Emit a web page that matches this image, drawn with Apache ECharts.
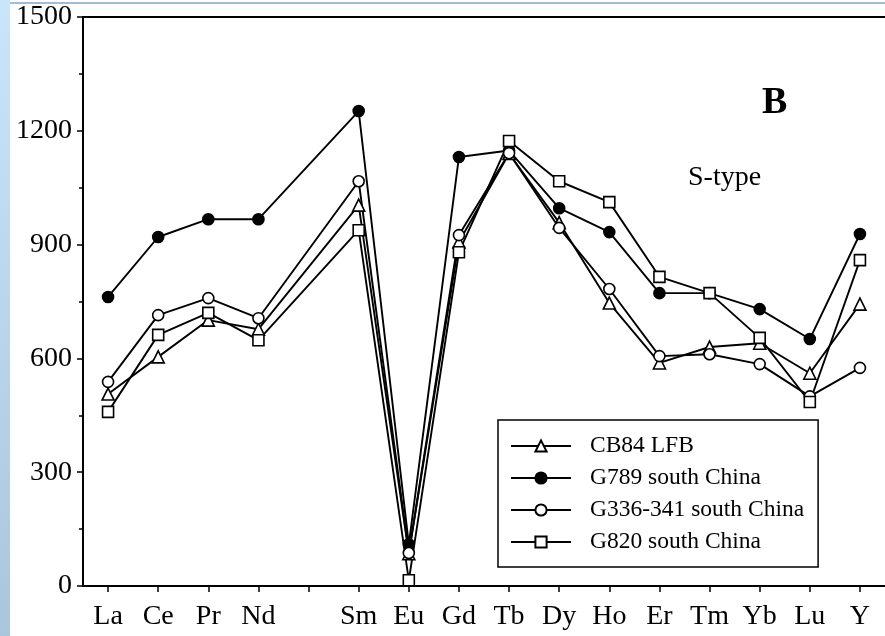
<!DOCTYPE html>
<html>
<head>
<meta charset="utf-8">
<script src="https://cdn.jsdelivr.net/npm/echarts@6/dist/echarts.min.js"></script>
<style>
html,body{margin:0;padding:0;background:#fff;}
#chart{width:885px;height:636px;}
</style>
</head>
<body>
<div id="chart"></div>
<script>
var categories = ['La','Ce','Pr','Nd','Pm','Sm','Eu','Gd','Tb','Dy','Ho','Er','Tm','Yb','Lu','Y'];
var yTicks = [0, 300, 600, 900, 1200, 1500];
var cb84 =   [506, 604, 701, 677, null, 1004, 85, 907, 1140, 958, 746, 588, 630, 640, 561, 743];
var g789 =   [762, 920, 967, 967, null, 1252, 110, 1131, 1148, 996, 933, 772, 772, 730, 651, 928];
var g336 =   [538, 714, 759, 706, null, 1067, 87, 925, 1141, 944, 783, 606, 611, 585, 500, 575];
var g820 =   [459, 662, 720, 648, null, 938, 15, 880, 1173, 1067, 1012, 815, 772, 654, 485, 859];
var seriesNames = ['CB84 LFB', 'G789 south China', 'G336-341 south China', 'G820 south China'];

var serif = '"Liberation Serif", "Times New Roman", serif';
var chart = echarts.init(document.getElementById('chart'), null, {renderer: 'canvas'});

function mk(name, data, symbol, filled, size) {
  return {
    name: name, type: 'line', data: data, connectNulls: true,
    symbol: symbol, symbolSize: size, showSymbol: true,
    lineStyle: {color: '#000', width: 1.9},
    itemStyle: {color: filled ? '#000' : '#fff', borderColor: '#000', borderWidth: 1.6, opacity: 1},
    emphasis: {disabled: true},
    animation: false
  };
}

chart.setOption({
  animation: false,
  backgroundColor: '#fff',
  grid: {left: 83, right: -2, top: 17, bottom: 50, containLabel: false},
  xAxis: [{
    type: 'category', data: categories, boundaryGap: true,
    axisLine: {lineStyle: {color: '#000', width: 2}},
    axisTick: {show: true, alignWithLabel: true, interval: 0, length: 6, lineStyle: {color: '#000', width: 1.5}},
    axisLabel: {interval: 0, margin: 17, color: '#000', fontFamily: serif, fontSize: 28,
      formatter: function (v) { return v === 'Pm' ? '' : v; }},
    splitLine: {show: false}
  }, {
    type: 'category', data: categories, position: 'top', boundaryGap: true,
    axisLine: {show: true, lineStyle: {color: '#000', width: 2}},
    axisTick: {show: false}, axisLabel: {show: false}, splitLine: {show: false}
  }],
  yAxis: {
    type: 'value', min: yTicks[0], max: yTicks[yTicks.length - 1], interval: 300,
    axisLine: {show: true, lineStyle: {color: '#000', width: 2}},
    axisTick: {show: true, length: 6, lineStyle: {color: '#000', width: 1.5}},
    minorTick: {show: true, splitNumber: 2, length: 4, lineStyle: {color: '#000', width: 1.5}},
    axisLabel: {margin: 11, color: '#000', fontFamily: serif, fontSize: 28,
      formatter: function (v) { return String(v); }},
    splitLine: {show: false}
  },
  legend: {
    orient: 'vertical', left: 498, top: 420,
    data: seriesNames,
    itemWidth: 60, itemHeight: 14, itemGap: 8,
    padding: [14, 14, 13, 12],
    borderColor: '#000', borderWidth: 1.5,
    backgroundColor: '#fff',
    textStyle: {fontFamily: serif, fontSize: 23.5, color: '#000', padding: [0, 0, 0, 14]},
    selectedMode: false
  },
  graphic: [
    {type: 'rect', left: 0, top: 0, shape: {width: 10, height: 636}, silent: true, z: 100,
      style: {fill: new echarts.graphic.LinearGradient(0, 0, 0, 1, [{offset: 0, color: '#c8e5f9'}, {offset: 1, color: '#a9c6db'}])}},
    {type: 'line', shape: {x1: 10, y1: 3, x2: 885, y2: 3}, silent: true, z: 100,
      style: {stroke: '#4a78ad', lineWidth: 1.2}},
    {type: 'text', left: 762, top: 84, silent: true,
      style: {text: 'B', fontFamily: serif, fontWeight: 'bold', fontSize: 38, fill: '#000'}},
    {type: 'text', left: 688, top: 164, silent: true,
      style: {text: 'S-type', fontFamily: serif, fontSize: 28, fill: '#000'}}
  ],
  series: [
    mk(seriesNames[0], cb84, 'triangle', false, 12),
    mk(seriesNames[1], g789, 'circle', true, 11),
    mk(seriesNames[2], g336, 'circle', false, 11),
    mk(seriesNames[3], g820, 'rect', false, 11)
  ]
});
</script>
</body>
</html>
